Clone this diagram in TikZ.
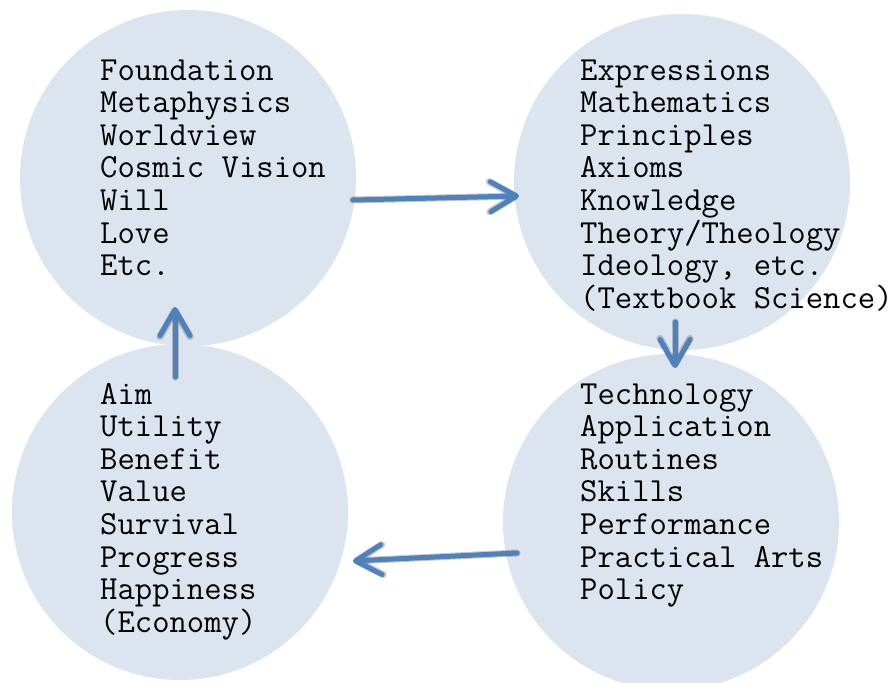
\documentclass[tikz,border=0pt]{standalone}
\usepackage{fontspec}
\usetikzlibrary{arrows.meta}
\definecolor{disc}{HTML}{DCE4F0}
\definecolor{flow}{HTML}{4F81BD}
\tikzset{
  disc/.style={circle, fill=disc, minimum size=336pt, inner sep=0pt},
  % multi-line node: the base anchor sits on the last line
  words/.style={anchor=base west, align=left, inner sep=0pt,
    font=\ttfamily\fontsize{33.7}{32.6}\selectfont},
  flowarrow/.style={draw=flow, line width=5pt, line cap=round,
    -{Straight Barb[length=26pt, width=30pt, round]}},
  flowshadow/.style={draw=black, opacity=0.07, line width=7pt, line cap=round,
    -{Straight Barb[length=26pt, width=30pt, round]}}
}
\begin{document}
\begin{tikzpicture}[x=1pt, y=-1pt]
  \useasboundingbox (0,0) rectangle (893,682);
  % four discs
  \node[disc] (found) at (188,178) {};
  \node[disc] (expr)  at (682,182) {};
  \node[disc] (aim)   at (180,512) {};
  \node[disc] (tech)  at (671,522) {};
  % lists (positioned by the baseline of their last line)
  \node[words] (t1) at (100,275.6) {Foundation\\Metaphysics\\Worldview\\Cosmic Vision\\Will\\Love\\Etc.};
  \node[words] (t2) at (580,308.2) {Expressions\\Mathematics\\Principles\\Axioms\\Knowledge\\Theory/Theology\\Ideology, etc.\\(Textbook Science)};
  \node[words] (t3) at (100,632.2) {Aim\\Utility\\Benefit\\Value\\Survival\\Progress\\Happiness\\(Economy)};
  \node[words] (t4) at (580,599.6) {Technology\\Application\\Routines\\Skills\\Performance\\Practical Arts\\Policy};
  % arrow end points
  \coordinate (a1s) at (353,200);
  \coordinate (a1e) at (519,196);
  \coordinate (a2s) at (675,322);
  \coordinate (a2e) at (675,368);
  \coordinate (a3s) at (517,553);
  \coordinate (a3e) at (353,561);
  \coordinate (a4s) at (175,377);
  \coordinate (a4e) at (175,307);
  % soft shadows under the arrows
  \foreach \dx/\dy in {2/3,3/4,4/5} {
    \begin{scope}[shift={(\dx,\dy)}]
      \draw[flowshadow] (a1s) -- (a1e);
      \draw[flowshadow] (a2s) -- (a2e);
      \draw[flowshadow] (a3s) -- (a3e);
      \draw[flowshadow] (a4s) -- (a4e);
    \end{scope}
  }
  % cycle arrows
  \draw[flowarrow] (a1s) -- (a1e);
  \draw[flowarrow] (a2s) -- (a2e);
  \draw[flowarrow] (a3s) -- (a3e);
  \draw[flowarrow] (a4s) -- (a4e);
\end{tikzpicture}
\end{document}
